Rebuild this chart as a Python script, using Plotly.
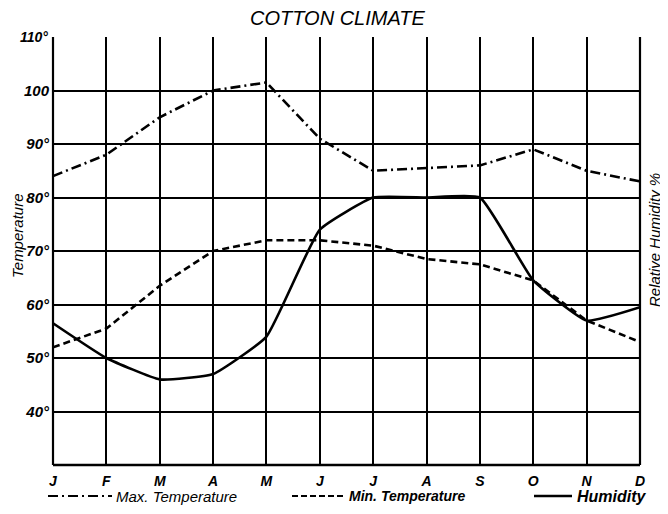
import plotly.graph_objects as go

months = ["J", "F", "M", "A", "M", "J", "J", "A", "S", "O", "N", "D"]
max_temp = [84, 88, 95, 100, 101.5, 91, 85, 85.5, 86, 89, 85, 83]
min_temp = [52, 55.5, 63.5, 70, 72, 72, 71, 68.5, 67.5, 64.5, 57, 53]
humidity = [56.5, 50, 46, 47, 54, 74, 80, 80, 80, 64.5, 57, 59.5]
y_ticks = [40, 50, 60, 70, 80, 90, 100]
y_tick_text = ["40°", "50°", "60°", "70°", "80°", "90°", "100"]
series_names = ["Max. Temperature", "Min. Temperature", "Humidity"]

x = list(range(len(months)))
FONT = "Liberation Sans"
OFF = 8  # page body margin
W, H = 668 - OFF, 514 - OFF
L, T = 53 - OFF, 37 - OFF
R = W - (640 - OFF)
B = H - (465 - OFF)
PW, PH = W - L - R, H - T - B


def px_x(p):
    return (p - OFF - L) / PW


def px_y(p):
    return (H - B - (p - OFF)) / PH


DASH_MAX = "10px,4px,2px,4px"
DASH_MIN = "7px,4px"

fig = go.Figure()
fig.add_trace(go.Scatter(x=x, y=max_temp, mode="lines", name=series_names[0],
                         line=dict(color="black", width=2.6, dash=DASH_MAX)))
fig.add_trace(go.Scatter(x=x, y=min_temp, mode="lines", name=series_names[1],
                         line=dict(color="black", width=2.6, dash=DASH_MIN)))
fig.add_trace(go.Scatter(x=x, y=humidity, mode="lines", name=series_names[2],
                         line=dict(color="black", width=2.6, shape="spline", smoothing=0.4)))

leg_y = px_y(496)
shapes = [
    dict(type="line", xref="paper", yref="paper", x0=0, x1=1, y0=0, y1=0,
         line=dict(color="black", width=2.5)),
    dict(type="line", xref="paper", yref="paper", x0=0, x1=0, y0=0, y1=1,
         line=dict(color="black", width=2.2)),
    dict(type="line", xref="paper", yref="paper", x0=1, x1=1, y0=0, y1=1,
         line=dict(color="black", width=2.2)),
    dict(type="line", xref="paper", yref="paper", x0=px_x(48), x1=px_x(112), y0=leg_y, y1=leg_y,
         line=dict(color="black", width=2, dash=DASH_MAX)),
    dict(type="line", xref="paper", yref="paper", x0=px_x(292), x1=px_x(345), y0=leg_y, y1=leg_y,
         line=dict(color="black", width=2.2, dash="6px,3px")),
    dict(type="line", xref="paper", yref="paper", x0=px_x(534), x1=px_x(572), y0=leg_y, y1=leg_y,
         line=dict(color="black", width=2.4)),
]

annotations = [
    dict(text="COTTON CLIMATE", xref="paper", yref="paper", x=px_x(337), y=px_y(18),
         xanchor="center", yanchor="middle", showarrow=False,
         font=dict(family=FONT, size=20, style="italic")),
    dict(text="110°", xref="paper", yref="y", x=0, y=110, xanchor="right",
         yanchor="middle", xshift=-3, showarrow=False,
         font=dict(family=FONT, size=14, style="italic", weight="bold")),
    dict(text="Temperature", xref="paper", yref="paper", x=px_x(17), y=px_y(236),
         textangle=-90, xanchor="center", yanchor="middle", showarrow=False,
         font=dict(family=FONT, size=15, style="italic")),
    dict(text="Relative Humidity %", xref="paper", yref="paper", x=px_x(654), y=px_y(240),
         textangle=-90, xanchor="center", yanchor="middle", showarrow=False,
         font=dict(family=FONT, size=15, style="italic")),
    dict(text=series_names[0], xref="paper", yref="paper", x=px_x(114), y=leg_y,
         xanchor="left", yanchor="middle", showarrow=False,
         font=dict(family=FONT, size=15, style="italic")),
    dict(text=series_names[1], xref="paper", yref="paper", x=px_x(347), y=leg_y,
         xanchor="left", yanchor="middle", showarrow=False,
         font=dict(family=FONT, size=14, style="italic", weight="bold")),
    dict(text=series_names[2], xref="paper", yref="paper", x=px_x(575), y=leg_y,
         xanchor="left", yanchor="middle", showarrow=False,
         font=dict(family=FONT, size=16, style="italic", weight="bold")),
]

fig.update_layout(
    width=W, height=H,
    margin=dict(l=L, r=R, t=T, b=B),
    paper_bgcolor="white", plot_bgcolor="white",
    font=dict(family=FONT, color="black"),
    showlegend=False,
    xaxis=dict(range=[0, 11], tickvals=x, ticktext=months, showgrid=True,
               gridcolor="black", gridwidth=2, zeroline=False, showline=False,
               ticks="", tickfont=dict(family=FONT, size=14, style="italic", weight="bold"),
               ticklabelstandoff=6, automargin=False, fixedrange=True),
    yaxis=dict(range=[30, 110], tickvals=y_ticks, ticktext=y_tick_text, showgrid=True,
               gridcolor="black", gridwidth=2, zeroline=False, showline=False,
               ticks="", tickfont=dict(family=FONT, size=15, style="italic", weight="bold"),
               ticklabelstandoff=3, automargin=False, fixedrange=True),
    shapes=shapes,
    annotations=annotations,
)

fig.write_html("out.html")
